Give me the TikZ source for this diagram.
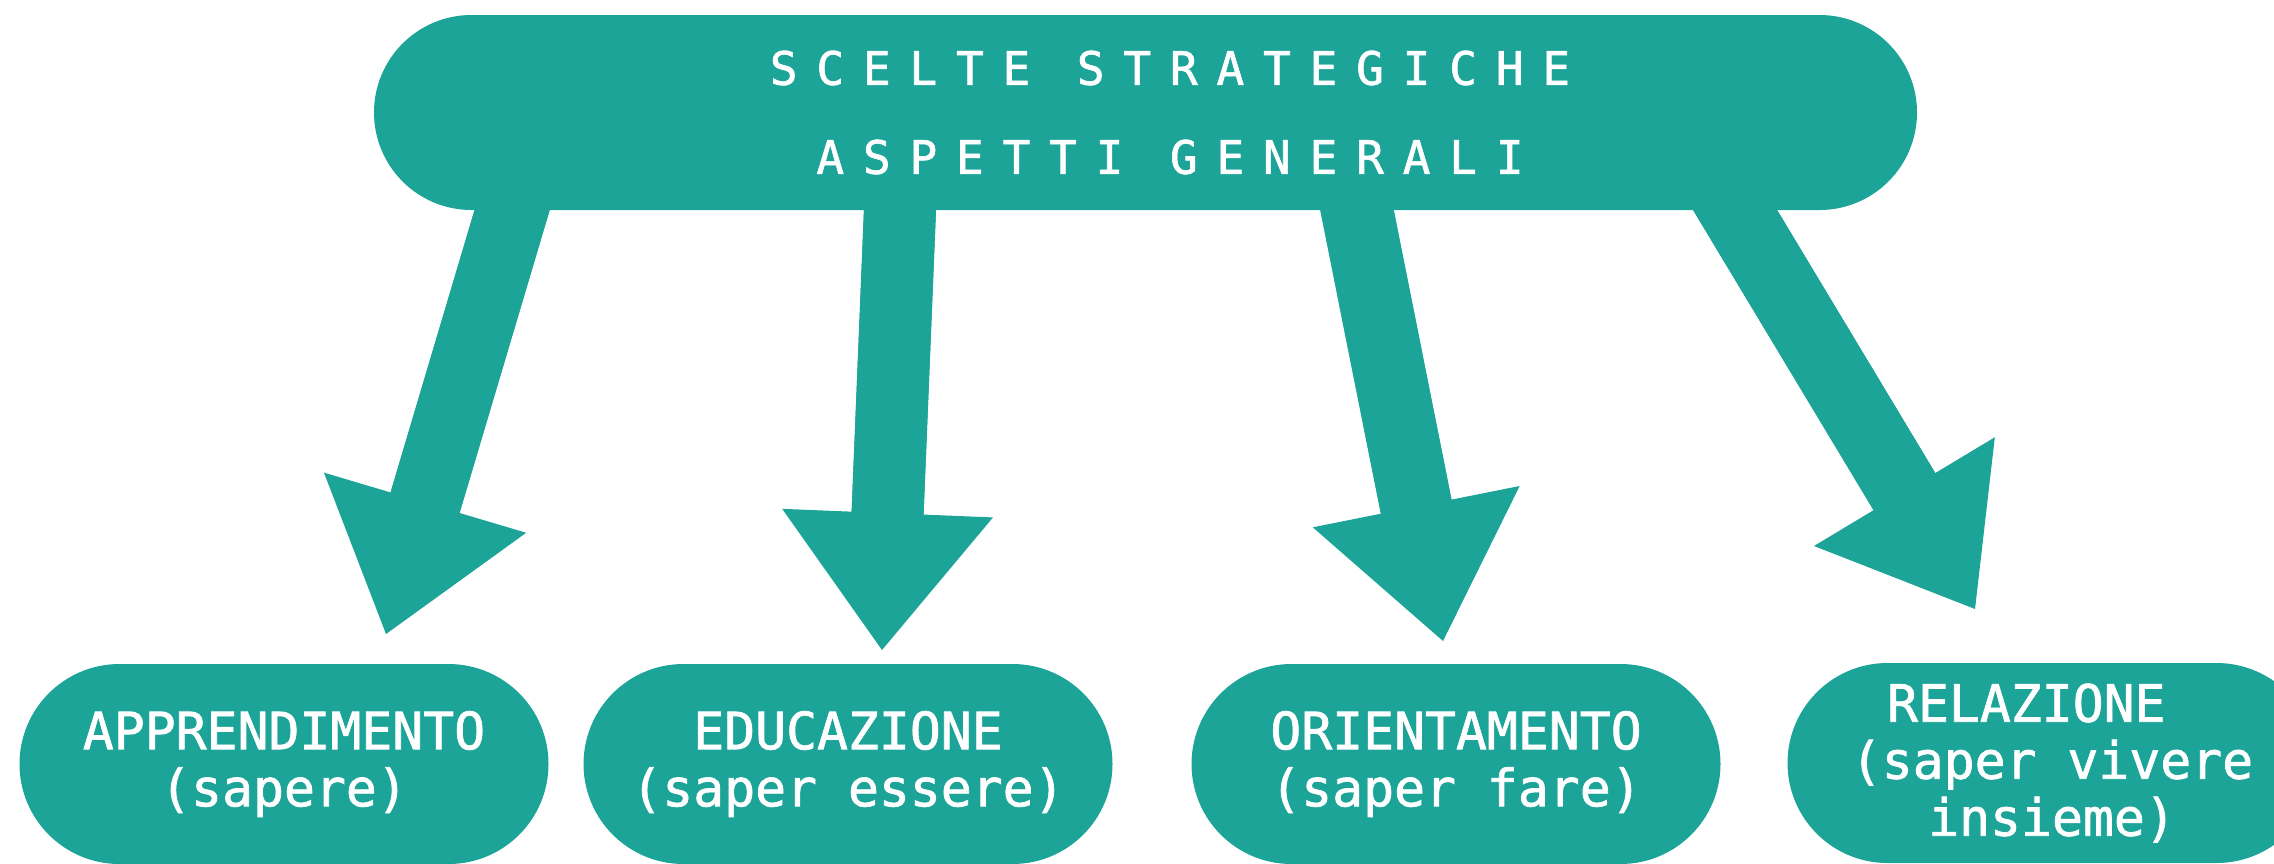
\documentclass[tikz,border=0pt]{standalone}
\usepackage{fontspec}
\newfontfamily\leafmono[FakeBold=1.4]{DejaVu Sans Mono}
\newfontfamily\topmono[LetterSpace=41,FakeBold=1.4]{DejaVu Sans Mono}
\usetikzlibrary{arrows.meta}
\definecolor{tealbox}{RGB}{28,164,152}
\pgfdeclarelayer{bg}
\pgfsetlayers{bg,main}
\begin{document}
\begin{tikzpicture}[x=0.5pt,y=-0.5pt,
  topbox/.style={fill=tealbox, minimum width=771.5pt, minimum height=97.5pt, rounded corners=48.75pt, inner sep=0pt},
  toptext/.style={text=white, align=center, inner sep=0pt, font=\topmono\fontsize{23}{44.5}\selectfont},
  leafbox/.style={fill=tealbox, minimum width=264.5pt, minimum height=100pt, rounded corners=50pt, inner sep=0pt, text=white, align=center, font=\leafmono\fontsize{25.7}{28.5}\selectfont},
  bigarrow/.style={draw=tealbox, line width=36pt, -{Triangle[width=105.5pt,length=68.5pt,line width=0pt]},
    postaction={draw=tealbox, line width=36pt, -, shorten >=50pt}}
]
\useasboundingbox (0,0) rectangle (2274,863);
\node[topbox] (top) at (1145.5,112.5) {};
\node[toptext] (toplabel) at (1170,112.5) {SCELTE STRATEGICHE\\ASPETTI GENERALI};
\node[leafbox] (l1) at (284,764) {APPRENDIMENTO\\(sapere)};
\node[leafbox] (l2) at (848,764) {EDUCAZIONE\\(saper essere)};
\node[leafbox] (l3) at (1456,764) {ORIENTAMENTO\\(saper fare)};
\node[leafbox] (l4) at (2052,763) {RELAZIONE\hspace*{1em}\\(saper vivere\\insieme)};
\coordinate (s1) at (527,160); \coordinate (t1) at (386,634);
\coordinate (s2) at (902,160); \coordinate (t2) at (882,650);
\coordinate (s3) at (1347,160); \coordinate (t3) at (1443,641);
\coordinate (s4) at (1705,160); \coordinate (t4) at (1975,609);
\begin{pgfonlayer}{bg}
\draw[bigarrow] (s1) -- (t1);
\draw[bigarrow] (s2) -- (t2);
\draw[bigarrow] (s3) -- (t3);
\draw[bigarrow] (s4) -- (t4);
\end{pgfonlayer}
\end{tikzpicture}
\end{document}
